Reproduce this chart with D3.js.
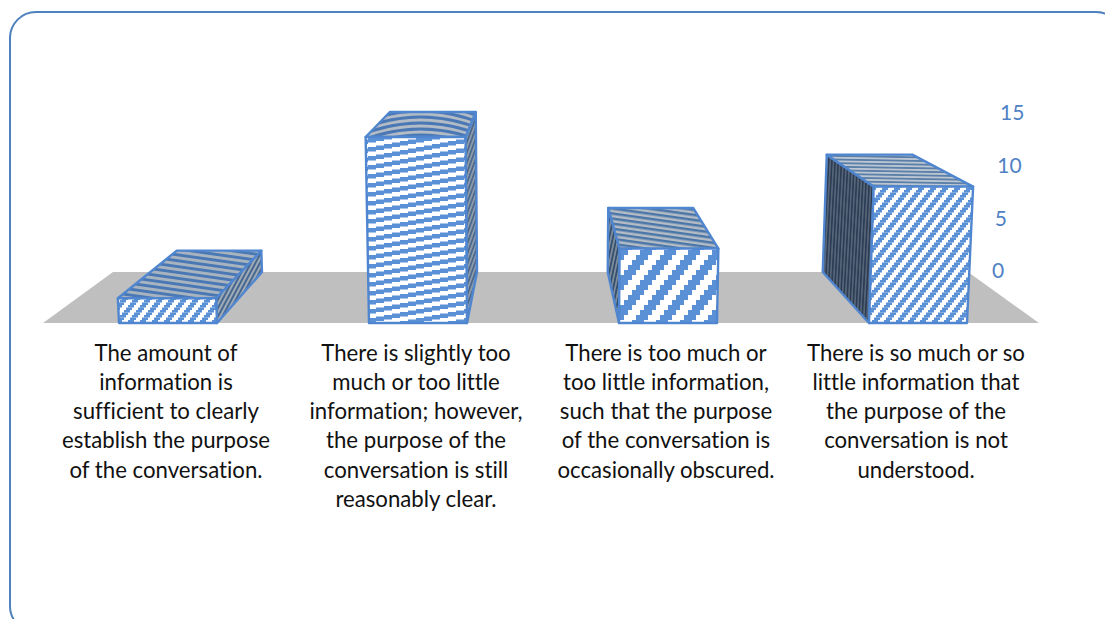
<!DOCTYPE html>
<html>
<head>
<meta charset="utf-8">
<style>
  html, body { margin: 0; padding: 0; background: #fff; overflow: hidden; }
  svg { display: block; }
  text { font-family: "Lato", "Open Sans", sans-serif; font-variant-ligatures: none; }
</style>
<script src="https://cdn.jsdelivr.net/npm/d3@7"></script>
</head>
<body>
<div id="chart"></div>
<script>
// Ratings for how well the amount of information served the conversation
const categories = [
  ["The amount of", "information is", "sufficient to clearly", "establish the purpose", "of the conversation."],
  ["There is slightly too", "much or too little", "information; however,", "the purpose of the", "conversation is still", "reasonably clear."],
  ["There is too much or", "too little information,", "such that the purpose", "of the conversation is", "occasionally obscured."],
  ["There is so much or so", "little information that", "the purpose of the", "conversation is not", "understood."]
];
const counts = [2, 15, 6, 11];
const axisTicks = [0, 5, 10, 15];

// Stepped hatch on the front faces: [mode, period, steps, step size]
const frontHatch = [
  ["rows", 12, 6, 2.5],
  ["cols", 9, 6, 8],
  ["rows", 24, 6, 5],
  ["rows", 12, 6, 2.5]
];
// Hatch on the lids and sides: [period, angle, ink, paper]
const lidHatch = [
  [5.8, 98, "#4a78b4", "#a8b3c0"],
  [6, 90, "#4a78b4", "#b3bcc6"],
  [5, 98, "#4b76a8", "#b4bcc6"],
  [3.6, 91, "#5a7fa8", "#bcc6d2"]
];
const sideHatch = [
  [4, 28, "#46688f", "#a0abb8"],
  [3.5, 20, "#4a6a90", "#8f9aa8"],
  [3.6, 12, "#34506f", "#7e8b9a"],
  [3.2, 3, "#2c3d54", "#566479"]
];
const INK = "#5a90d6";

const W = 1105, H = 619;
const svg = d3.select("#chart").append("svg").attr("width", W).attr("height", H);
const defs = svg.append("defs");

function hatch(id, [period, angle, ink, paper]) {
  const p = defs.append("pattern")
    .attr("id", id)
    .attr("patternUnits", "userSpaceOnUse")
    .attr("width", period).attr("height", period)
    .attr("patternTransform", `rotate(${angle})`);
  p.append("rect").attr("width", period).attr("height", period).attr("fill", paper);
  p.append("rect").attr("width", period * 0.5).attr("height", period).attr("fill", ink);
  return `url(#${id})`;
}

// Stripes climbing to the right in small stair steps
function steppedHatch(id, [mode, period, steps, size]) {
  const rows = mode === "rows";
  const p = defs.append("pattern")
    .attr("id", id)
    .attr("patternUnits", "userSpaceOnUse")
    .attr("width", rows ? period : steps * size)
    .attr("height", rows ? steps * size : period);
  p.append("rect").attr("width", "100%").attr("height", "100%").attr("fill", "#fff");
  d3.range(steps).forEach(k => {
    const shift = (k / steps) * period;
    [-period, 0, period].forEach(wrap => {
      const a = period - shift + wrap;
      p.append("rect")
        .attr("x", rows ? a : k * size)
        .attr("y", rows ? k * size : a)
        .attr("width", rows ? period / 2 : size)
        .attr("height", rows ? size : period / 2)
        .attr("fill", INK);
    });
  });
  return `url(#${id})`;
}

// Lid whose stripes bow into arcs across the column
function bowedHatch(id, x0, width, [period, , ink, paper]) {
  const p = defs.append("pattern")
    .attr("id", id)
    .attr("patternUnits", "userSpaceOnUse")
    .attr("width", width).attr("height", period)
    .attr("patternTransform", `translate(${x0},0)`);
  p.append("rect").attr("width", width).attr("height", period).attr("fill", paper);
  d3.range(-4, 5).forEach(k => {
    const y = k * period + period / 2;
    p.append("path")
      .attr("d", `M0,${y + 10} Q${width / 2},${y - 10} ${width},${y + 10}`)
      .attr("fill", "none").attr("stroke", ink).attr("stroke-width", period * 0.5);
  });
  return `url(#${id})`;
}

// Chart frame, running past the right and bottom of the page
svg.append("rect")
  .attr("x", 10).attr("y", 12).attr("width", 1112).attr("height", 620)
  .attr("rx", 26).attr("ry", 26)
  .attr("fill", "#fff").attr("stroke", "#4f81bd").attr("stroke-width", 2);

// Perspective set-up: a front plane and a back plane with their own scales
const xFront = d3.scaleBand().domain(d3.range(counts.length)).range([43, 1043]);
const yFront = d3.scaleLinear().domain([0, 15]).range([323, 137]);
const yBack = d3.scaleLinear().domain([0, 15]).range([272, 112]);
const toBack = d3.scaleLinear().domain([167, 917]).range([219, 864]);
const barW = 98, lean = 0.0013, midX = 541;

function project(x, v, back) {
  const spread = x + (x - midX) * lean * v;
  return back ? [toBack(spread), yBack(v)] : [spread, yFront(v)];
}
const poly = pts => pts.map(p => p.join(",")).join(" ");

// Floor
svg.append("polygon")
  .attr("points", poly([[43, 323], [113, 272], [968, 272], [1039, 323]]))
  .attr("fill", "#bfbfbf");

// Value axis labels stepping along the right edge of the floor
const labelX = d3.scaleLinear().domain([0, 15]).range([992, 1000]);
const labelY = d3.scaleLinear().domain([0, 15]).range([271, 113]);
svg.append("g").selectAll("text").data(axisTicks).join("text")
  .attr("x", d => labelX(d)).attr("y", d => labelY(d))
  .attr("dy", "0.35em").attr("text-anchor", "start")
  .attr("font-size", 21).attr("fill", "#4f81c4")
  .text(d => d);

// Columns
const bars = svg.append("g").selectAll("g").data(counts).join("g");
bars.each(function (v, i) {
  const g = d3.select(this);
  const c = xFront(i) + xFront.bandwidth() / 2;
  const l = c - barW / 2, r = c + barW / 2;
  const fTL = project(l, v, false), fTR = project(r, v, false);
  const fBL = project(l, 0, false), fBR = project(r, 0, false);
  const bTL = project(l, v, true), bTR = project(r, v, true);
  const bBL = project(l, 0, true), bBR = project(r, 0, true);
  const face = (pts, fill) => g.append("polygon")
    .attr("points", poly(pts))
    .attr("fill", fill)
    .attr("stroke", "#4f86cf").attr("stroke-width", 2.4).attr("stroke-linejoin", "round");

  // Columns left of centre show their right side; the others show their left
  const side = c < 500
    ? [fTR, bTR, bBR, fBR]
    : [fTL, bTL, bBL, fBL];
  face(side, hatch(`side${i}`, sideHatch[i]));
  const lidFill = i === 1
    ? bowedHatch(`lid${i}`, fTL[0], fTR[0] - fTL[0] + 10, lidHatch[i])
    : hatch(`lid${i}`, lidHatch[i]);
  face([fTL, fTR, bTR, bTL], lidFill);
  face([fTL, fTR, fBR, fBL], steppedHatch(`front${i}`, frontHatch[i]));
});

// Category labels
const labels = svg.append("g").selectAll("g").data(categories).join("g")
  .attr("transform", (d, i) => `translate(${xFront(i) + xFront.bandwidth() / 2 - 2},0)`);
labels.selectAll("text").data(d => d).join("text")
  .attr("text-anchor", "middle")
  .attr("y", (d, j) => 360.5 + j * 29.3)
  .attr("font-size", 22.2).attr("fill", "#111")
  .text(d => d);
</script>
</body>
</html>
